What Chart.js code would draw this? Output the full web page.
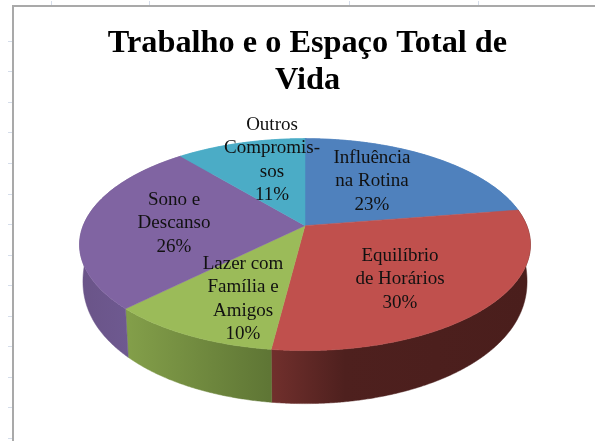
<!DOCTYPE html>
<html><head><meta charset="utf-8">
<script src="https://cdn.jsdelivr.net/npm/chart.js@4"></script>
<style>html,body{margin:0;padding:0;background:#fff}canvas{display:block;filter:blur(0.4px)}</style>
</head><body>
<canvas id="c" width="595" height="441"></canvas>
<script>
const titleLines = ["Trabalho e o Espaço Total de", "Vida"];
const categories = ["Influência na Rotina", "Equilíbrio de Horários", "Lazer com Família e Amigos", "Sono e Descanso", "Outros Compromissos"];
const sliceValues = [22.5, 29.5, 10.49, 26.49, 11.02];
const labelLines = [["Influência", "na Rotina"], ["Equilíbrio", "de Horários"], ["Lazer com", "Família e", "Amigos"], ["Sono e", "Descanso"], ["Outros", "Compromis-", "sos"]];

const topColors = ["#4F81BD", "#C0504D", "#9BBB59", "#8064A2", "#4BACC6"];
const labelAnchors = [[372, 158], [400, 256], [243, 264], [174, 200], [272, 125]];
const labelFont = '19px "Liberation Serif"';
const labelStep = 23.5;

// perspective projection of the library's circular arcs
const persp = 0.179, widthPx = 221.8, heightPx = 102.6, centerShift = -2.5;
const floorSide = 25, floorFront = 53, floorNarrow = 0.985;

function project(arc, ang, isFloor) {
  const u = Math.cos(ang), v = Math.sin(ang), d = 1 - persp * v;
  let dx = widthPx * u / d, dy = heightPx * v / d;
  if (isFloor) {
    dx *= floorNarrow;
    dy += floorSide + (floorFront - floorSide) * Math.sqrt(Math.max(v, 0));
  }
  return [arc.x + centerShift + dx, arc.y + dy];
}
function arcPoints(arc, isFloor) {
  const pts = [], n = Math.max(2, Math.ceil((arc.endAngle - arc.startAngle) / 0.006));
  for (let i = 0; i <= n; i++) pts.push(project(arc, arc.startAngle + (arc.endAngle - arc.startAngle) * i / n, isFloor));
  return pts;
}
function sideFill(ctx, i) {
  const stops = [
    null,
    [[269, "#72302D"], [345, "#4E201E"], [527, "#4A1E1C"]],
    [[123, "#84A04A"], [269, "#5F7635"]],
    [[80, "#6A5488"], [128, "#6E5990"]],
    null
  ][i];
  if (!stops) return topColors[i];
  const a = stops[0][0], b = stops[stops.length - 1][0];
  const g = ctx.createLinearGradient(a, 0, b, 0);
  stops.forEach(s => g.addColorStop((s[0] - a) / (b - a), s[1]));
  return g;
}

const frame = {
  id: "frame",
  beforeDraw(chart) {
    const ctx = chart.ctx;
    ctx.save();
    ctx.fillStyle = "#fff"; ctx.fillRect(0, 0, 595, 441);
    ctx.strokeStyle = "#D5DDEA"; ctx.lineWidth = 1;
    [41, 71, 102, 132, 163, 194, 224, 255, 285, 316, 346, 377, 407, 438].forEach(y => {
      ctx.beginPath(); ctx.moveTo(8, y + .5); ctx.lineTo(12, y + .5); ctx.stroke();
    });
    [51, 149, 349, 478].forEach(x => {
      ctx.beginPath(); ctx.moveTo(x + .5, 1); ctx.lineTo(x + .5, 5); ctx.stroke();
    });
    ctx.fillStyle = "#A9A9A9";
    ctx.fillRect(12, 5, 583, 2);
    ctx.fillRect(12, 5, 2, 436);
    ctx.restore();
  }
};
const pie3d = {
  id: "pie3d",
  beforeDatasetDraw(chart, args) {
    const ctx = chart.ctx, arcs = chart.getDatasetMeta(args.index).data;
    ctx.save();
    arcs.forEach((arc, i) => {
      const top = arcPoints(arc, false), floor = arcPoints(arc, true).reverse();
      ctx.beginPath();
      top.concat(floor).forEach((p, k) => k ? ctx.lineTo(p[0], p[1]) : ctx.moveTo(p[0], p[1]));
      ctx.closePath();
      const f = sideFill(ctx, i);
      ctx.fillStyle = f; ctx.strokeStyle = f; ctx.lineWidth = .5;
      ctx.fill(); ctx.stroke();
    });
    arcs.forEach((arc, i) => {
      ctx.beginPath();
      ctx.moveTo(arc.x + centerShift, arc.y);
      arcPoints(arc, false).forEach(p => ctx.lineTo(p[0], p[1]));
      ctx.closePath();
      ctx.fillStyle = topColors[i]; ctx.strokeStyle = topColors[i]; ctx.lineWidth = .5;
      ctx.fill(); ctx.stroke();
    });
    ctx.restore();
    return false;
  },
  afterDatasetsDraw(chart) {
    const ctx = chart.ctx, total = sliceValues.reduce((a, b) => a + b, 0);
    ctx.save();
    ctx.font = labelFont; ctx.fillStyle = "#111"; ctx.textAlign = "center"; ctx.textBaseline = "middle";
    sliceValues.forEach((val, i) => {
      const lines = labelLines[i].concat(Math.round(val / total * 100) + "%");
      lines.forEach((t, k) => ctx.fillText(t, labelAnchors[i][0], labelAnchors[i][1] + k * labelStep));
    });
    ctx.restore();
  }
};
new Chart(document.getElementById("c"), {
  type: "pie",
  data: { labels: categories, datasets: [{ data: sliceValues, backgroundColor: topColors, borderWidth: 0 }] },
  options: {
    responsive: false, animation: false,
    layout: { padding: { left: 20, right: 0, top: 0, bottom: 93 } },
    plugins: {
      legend: { display: false }, tooltip: { enabled: false },
      title: { display: true, text: titleLines, color: "#000", align: "center",
        font: { family: '"Liberation Serif"', size: 32.3, weight: "bold", lineHeight: 1.15 },
        padding: { top: 25, bottom: 4 } }
    }
  },
  plugins: [frame, pie3d]
});
</script>
</body></html>
